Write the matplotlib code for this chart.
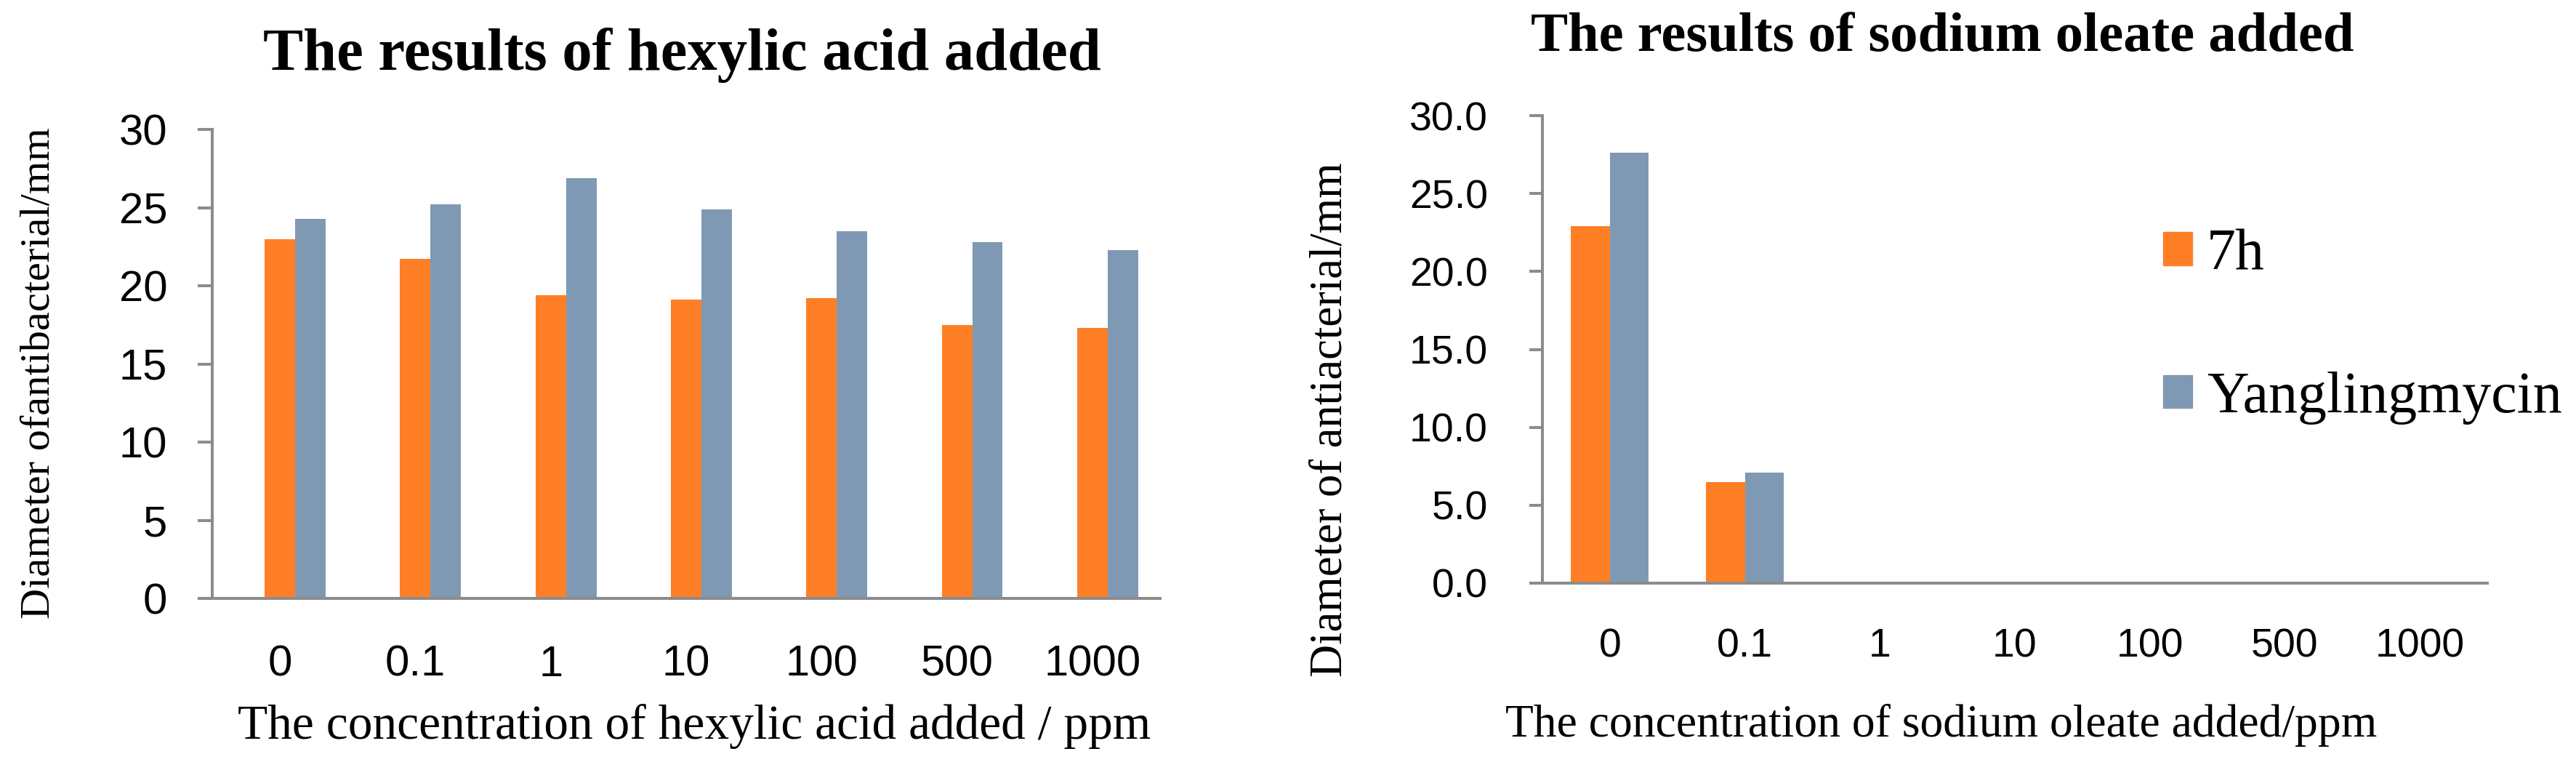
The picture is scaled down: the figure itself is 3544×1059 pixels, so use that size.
import matplotlib
matplotlib.use("Agg")
import matplotlib.pyplot as plt
import numpy as np
from matplotlib.patches import Patch

categories = ["0", "0.1", "1", "10", "100", "500", "1000"]
hexylic_7h = [23.0, 21.7, 19.4, 19.1, 19.2, 17.5, 17.3]
hexylic_yang = [24.3, 25.2, 26.9, 24.9, 23.5, 22.8, 22.3]
oleate_7h = [22.9, 6.5, 0, 0, 0, 0, 0]
oleate_yang = [27.6, 7.1, 0, 0, 0, 0, 0]
series_names = ["7h", "Yanglingmycin"]

ORANGE = "#FF7F27"
BLUE = "#7F99B4"
GRAY = "#8C8C8C"
SERIF = "Liberation Serif"
TICKF = "Liberation Sans"

W, H = 3544, 1059
fig = plt.figure(figsize=(W/100, H/100), dpi=100)
x = np.arange(len(categories))

def style(ax, tick_size, ylen, ypad, xpad):
    for s in ["top", "right"]:
        ax.spines[s].set_visible(False)
    for s in ["left", "bottom"]:
        ax.spines[s].set_color(GRAY)
        ax.spines[s].set_linewidth(2.9)
    ax.tick_params(axis="y", direction="out", length=ylen, width=2.9, color=GRAY,
                   pad=ypad, labelsize=tick_size)
    ax.tick_params(axis="x", length=0, pad=xpad, labelsize=tick_size)
    for lab in ax.get_xticklabels() + ax.get_yticklabels():
        lab.set_fontfamily(TICKF)

# Left chart
ax1 = fig.add_axes([292/W, 1-823/H, (1596-292)/W, (823-178)/H])
w1 = 0.225
ax1.bar(x, hexylic_7h, w1, color=ORANGE)
ax1.bar(x + w1, hexylic_yang, w1, color=BLUE)
ax1.set_xlim(-0.5, 6.5)
ax1.set_ylim(0, 30)
ax1.set_yticks(np.arange(0, 31, 5))
ax1.set_xticks(x)
ax1.set_xticklabels(categories)
style(ax1, 43, 14.4, 30, 46)

# Right chart
ax2 = fig.add_axes([2122/W, 1-802/H, (3422-2122)/W, (802-159)/H])
w2 = 0.288
ax2.bar(x - w2/2, oleate_7h, w2, color=ORANGE)
ax2.bar(x + w2/2, oleate_yang, w2, color=BLUE)
ax2.set_xlim(-0.5, 6.5)
ax2.set_ylim(0, 30)
ax2.set_yticks(np.arange(0, 31, 5))
ax2.set_yticklabels([f"{v:.1f}" for v in np.arange(0, 31, 5)])
ax2.set_xticks(x)
ax2.set_xticklabels(categories)
style(ax2, 40, 13, 41, 44)

# Titles and labels
fig.text(938/W, 1-96/H, "The results of hexylic acid added", family=SERIF,
         fontweight="bold", fontsize=59.5, ha="center", va="baseline")
fig.text(2672/W, 1-70/H, "The results of sodium oleate added", family=SERIF,
         fontweight="bold", fontsize=55.2, ha="center", va="baseline")
fig.text(955/W, 1-1016/H, "The concentration of hexylic acid added / ppm", family=SERIF,
         fontsize=48.5, ha="center", va="baseline")
fig.text(2671/W, 1-1013/H, "The concentration of sodium oleate added/ppm", family=SERIF,
         fontsize=45.8, ha="center", va="baseline")
fig.text(68/W, 1-513/H, "Diameter ofantibacterial/mm", family=SERIF,
         fontsize=42, ha="center", va="baseline", rotation=90, rotation_mode="anchor")
fig.text(1846/W, 1-577/H, "Diameter of antiacterial/mm", family=SERIF,
         fontsize=45, ha="center", va="baseline", rotation=90, rotation_mode="anchor")

handles = [Patch(color=ORANGE), Patch(color=BLUE)]
fig.legend(handles, series_names, loc="center left",
           bbox_to_anchor=(2976/W, 1-449/H), frameon=False, borderpad=0,
           borderaxespad=0, prop={"family": SERIF, "size": 57.5},
           handlelength=0.5, handleheight=0.5, handletextpad=0.25,
           labelspacing=1.55)

fig.savefig("out.png", dpi=100)
